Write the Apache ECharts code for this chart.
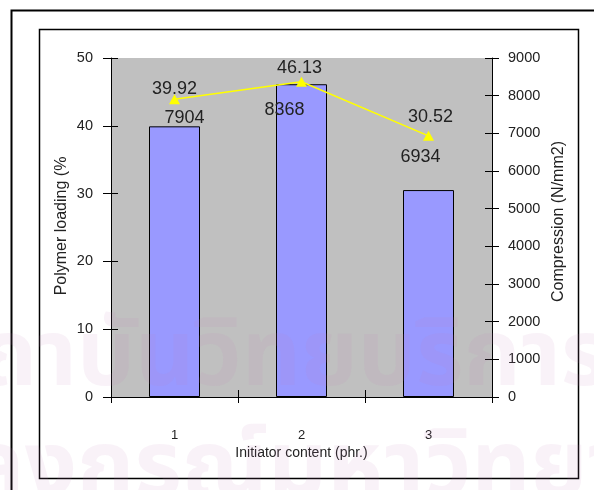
<!DOCTYPE html>
<html>
<head>
<meta charset="utf-8">
<script src="https://cdn.jsdelivr.net/npm/echarts@6/dist/echarts.min.js"></script>
<style>
  html, body { margin: 0; padding: 0; background: #fff; }
  #chart { width: 594px; height: 490px; }
</style>
</head>
<body>
<div id="chart"></div>
<script>
// Initiator content (phr.) on the category axis
const categories = ['1', '2', '3'];
// Polymer loading (%) — bars, left axis
const loading = [39.92, 46.13, 30.52];
// Compression (N/mm2) — line, right axis
const compression = [7904, 8368, 6934];
// axis ranges
const loadingAxis = { min: 0, max: 50, interval: 10 };
const compressionAxis = { min: 0, max: 9000, interval: 1000 };

const SANS = '"Liberation Sans", Arial, sans-serif';
const THAI = '"Noto Sans Thai", "Noto Sans", sans-serif';
const INK = '#222';
const WATERMARK = 'rgba(200,130,185,0.10)';

// hand-placed label nudges, one per point
const barLabelShift = [[0, -23], [-2, -2], [2, -59]];
const lineLabelShift = [[10, 0], [-17, 9], [-8, 2]];

// size the background lettering from measured glyph runs
const measure = document.createElement('canvas').getContext('2d');
function textWidth(text, size) {
  measure.font = 'bold ' + size + 'px ' + THAI;
  return measure.measureText(text).width;
}
const markSize = 100 * 484 / textWidth('บันวิทยบริกา', 100);
const markFont = 'bold ' + markSize.toFixed(1) + 'px ' + THAI;
const markLeft1 = 77 - textWidth('สถา', markSize);
const markLeft2 = 77 - textWidth('จุฬาลง', markSize);

const chart = echarts.init(document.getElementById('chart'), null, { renderer: 'canvas' });

// a second, line-less axis that carries the inner half of each cross tick
function tickOnlyY(range, position) {
  return {
    type: 'value', position: position, offset: 0,
    min: range.min, max: range.max, interval: range.interval,
    axisLine: { show: false },
    axisTick: { show: true, inside: true, length: 7, lineStyle: { color: '#000', width: 1 } },
    axisLabel: { show: false }, splitLine: { show: false }
  };
}

chart.setOption({
  backgroundColor: '#ffffff',
  animation: false,
  grid: {
    left: 111, top: 58, width: 381, height: 339,
    show: true, backgroundColor: '#c0c0c0', borderWidth: 0
  },
  graphic: [
    { type: 'rect', z: 100, silent: true,
      shape: { x: 11.5, y: 10.5, width: 600, height: 500 },
      style: { fill: 'none', stroke: '#000', lineWidth: 2 } },
    { type: 'rect', z: 100, silent: true,
      shape: { x: 39.5, y: 29.5, width: 539, height: 449 },
      style: { fill: 'none', stroke: '#000', lineWidth: 1.5 } },
    { type: 'text', z: 200, silent: true, x: markLeft1, y: 320,
      style: { text: 'สถาบันวิทยบริการ', font: markFont, fill: WATERMARK } },
    { type: 'text', z: 200, silent: true, x: markLeft2, y: 431,
      style: { text: 'จุฬาลงกรณ์มหาวิทยาลัย', font: markFont, fill: WATERMARK } }
  ],
  xAxis: [
    {
      type: 'category', data: categories, position: 'bottom', offset: 0,
      boundaryGap: true,
      axisLine: { show: true, lineStyle: { color: '#000', width: 1 } },
      axisTick: { show: true, length: 6, lineStyle: { color: '#000', width: 1 } },
      axisLabel: { margin: 32, fontFamily: SANS, fontSize: 13, color: INK },
      name: 'Initiator content (phr.)', nameLocation: 'middle', nameGap: 49,
      nameMoveOverlap: false,
      nameTextStyle: { fontFamily: SANS, fontSize: 14, color: INK }
    },
    {
      type: 'category', data: categories, position: 'bottom', offset: 0,
      boundaryGap: true,
      axisLine: { show: false },
      axisTick: { show: true, inside: true, length: 7, lineStyle: { color: '#000', width: 1 } },
      axisLabel: { show: false }
    }
  ],
  yAxis: [
    {
      type: 'value', position: 'left', offset: 0,
      min: loadingAxis.min, max: loadingAxis.max, interval: loadingAxis.interval,
      axisLine: { show: true, lineStyle: { color: '#000', width: 1 } },
      axisTick: { show: true, length: 8, lineStyle: { color: '#000', width: 1 } },
      axisLabel: { margin: 18, fontFamily: SANS, fontSize: 14.5, color: INK },
      splitLine: { show: false },
      name: 'Polymer loading (%', nameLocation: 'middle', nameGap: 41,
      nameMoveOverlap: false,
      nameTextStyle: { fontFamily: SANS, fontSize: 16, color: INK, padding: [0, 0, 0, 3] }
    },
    {
      type: 'value', position: 'right', offset: 0,
      min: compressionAxis.min, max: compressionAxis.max, interval: compressionAxis.interval,
      axisLine: { show: true, lineStyle: { color: '#000', width: 1 } },
      axisTick: { show: true, length: 7, lineStyle: { color: '#000', width: 1 } },
      axisLabel: { margin: 16, fontFamily: SANS, fontSize: 14.5, color: INK,
        formatter: (v) => String(v) },
      splitLine: { show: false },
      name: 'Compression (N/mm2)', nameLocation: 'middle', nameGap: 59,
      nameMoveOverlap: false,
      nameTextStyle: { fontFamily: SANS, fontSize: 16, color: INK, padding: [0, 0, 0, 12] }
    },
    tickOnlyY(loadingAxis, 'left'),
    tickOnlyY(compressionAxis, 'right')
  ],
  series: [
    {
      type: 'bar', xAxisIndex: 0, yAxisIndex: 0,
      barWidth: 51,
      itemStyle: { color: '#9999ff', borderColor: '#000', borderWidth: 1 },
      data: loading.map((v, i) => ({
        value: v,
        label: {
          show: true, position: 'top', offset: barLabelShift[i],
          formatter: (p) => p.value.toFixed(2),
          fontFamily: SANS, fontSize: 18, color: INK
        }
      }))
    },
    {
      type: 'line', xAxisIndex: 0, yAxisIndex: 1,
      symbol: 'triangle', symbolSize: [11, 10],
      lineStyle: { color: '#ffff00', width: 1.5 },
      itemStyle: { color: '#ffff00' },
      z: 5,
      data: compression.map((v, i) => ({
        value: v,
        label: {
          show: true, position: 'bottom', offset: lineLabelShift[i],
          fontFamily: SANS, fontSize: 18, color: INK
        }
      }))
    }
  ]
});
</script>
</body>
</html>
